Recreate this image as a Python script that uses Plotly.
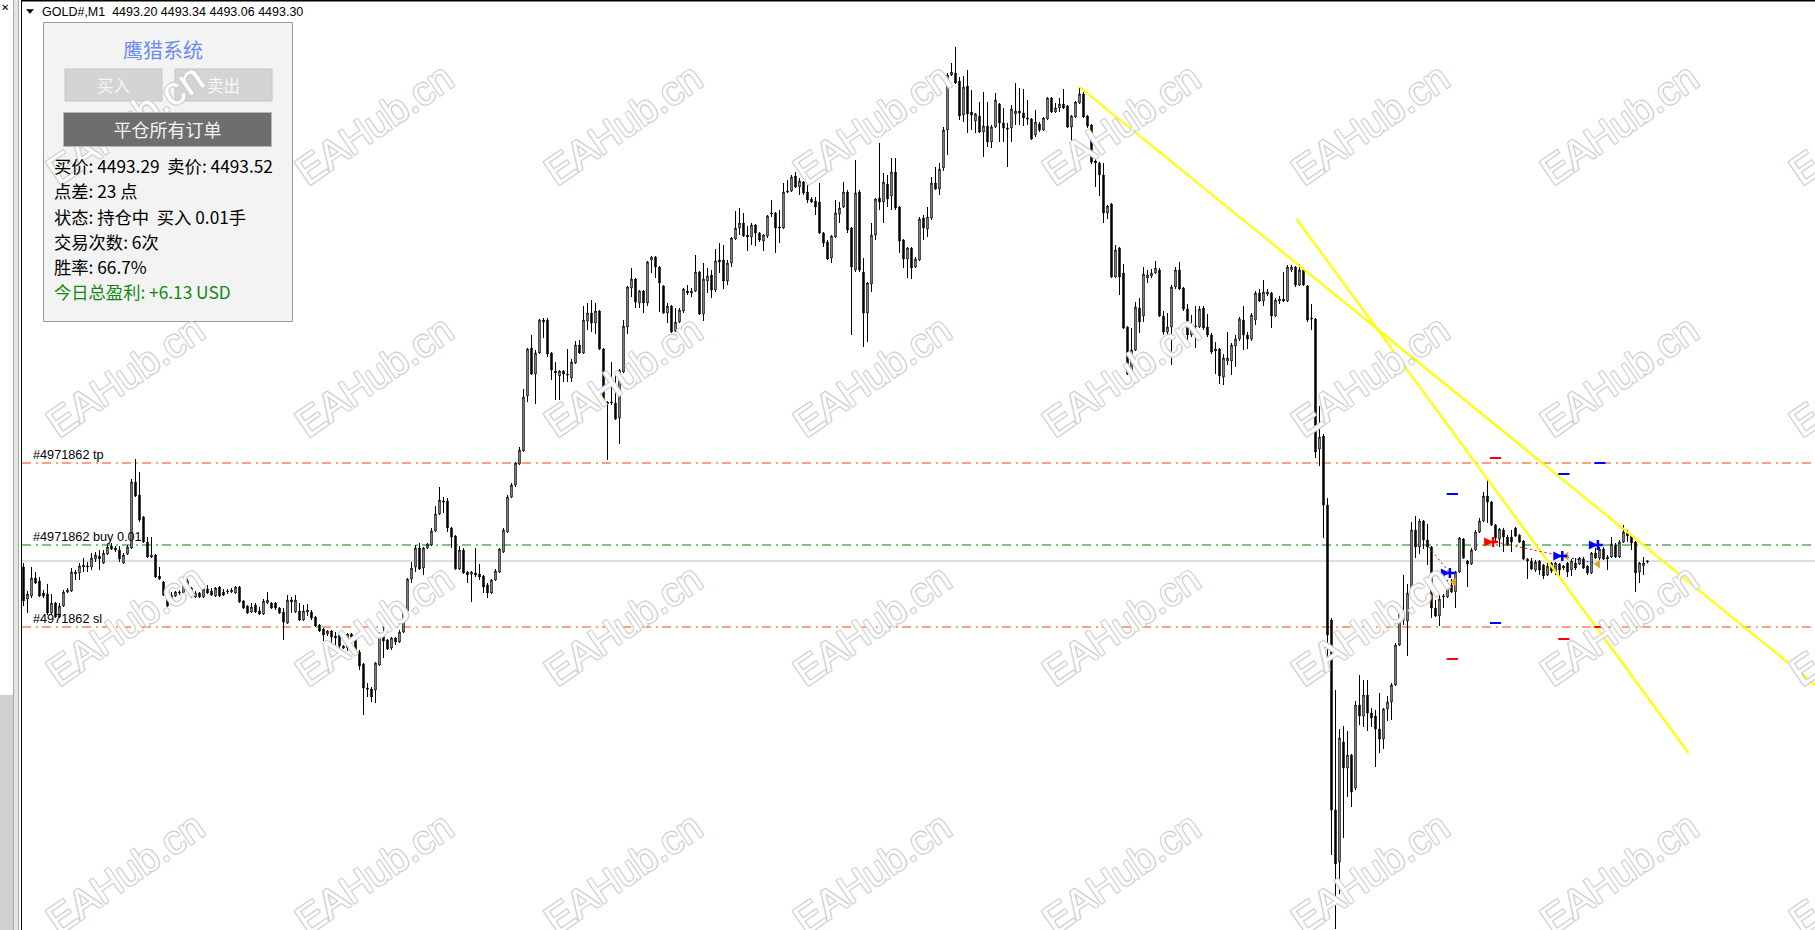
import plotly.graph_objects as go

W, H = 1815, 930

# ---------------- data (GOLD#, M1) ----------------
SYMBOL = "GOLD#,M1"
LAST_OHLC = ["4493.20", "4493.34", "4493.06", "4493.30"]

opens = [
    4492.7, 4489.5, 4489.8, 4491.6, 4491.3, 4490.1, 4490.0, 4488.1, 4489.1, 4487.7,
    4488.8, 4490.2, 4490.3, 4492.0, 4492.1, 4492.7, 4492.7, 4492.7, 4493.5, 4493.8,
    4493.1, 4494.0, 4494.8, 4494.6, 4494.4, 4493.1, 4494.0, 4494.6, 4501.2, 4499.9,
    4497.7, 4495.2, 4493.7, 4493.9, 4491.8, 4491.2, 4490.3, 4489.0, 4489.8, 4490.1,
    4490.1, 4491.3, 4490.6, 4489.7, 4490.1, 4489.7, 4490.5, 4490.3, 4489.8, 4490.7,
    4490.2, 4490.2, 4490.2, 4490.1, 4490.7, 4489.3, 4488.8, 4488.2, 4488.9, 4488.3,
    4488.0, 4489.1, 4489.1, 4489.1, 4488.6, 4488.2, 4487.1, 4489.4, 4488.2, 4488.3,
    4487.4, 4488.2, 4488.2, 4487.7, 4486.9, 4486.5, 4486.0, 4486.3, 4485.8, 4485.9,
    4484.8, 4484.6, 4486.0, 4485.5, 4484.2, 4483.0, 4480.6, 4480.5, 4480.4, 4482.9,
    4486.2, 4485.4, 4484.6, 4485.6, 4485.2, 4486.2, 4488.3, 4491.5, 4492.7, 4494.6,
    4492.6, 4494.6, 4494.9, 4496.3, 4498.0, 4499.3, 4499.3, 4496.6, 4495.8, 4492.5,
    4494.4, 4492.2, 4492.0, 4492.1, 4492.0, 4491.8, 4490.9, 4490.1, 4491.4, 4492.2,
    4494.2, 4496.2, 4499.7, 4500.9, 4503.0, 4504.3, 4509.8, 4514.6, 4512.0, 4514.1,
    4517.4, 4517.4, 4514.1, 4512.3, 4511.8, 4512.3, 4512.0, 4511.6, 4513.1, 4514.9,
    4514.1, 4517.3, 4518.1, 4517.1, 4518.3, 4514.5, 4509.0, 4509.1, 4509.1, 4507.6,
    4512.2, 4516.7, 4520.6, 4521.5, 4519.1, 4520.3, 4519.1, 4523.4, 4523.7, 4522.7,
    4520.8, 4518.1, 4518.8, 4516.3, 4517.2, 4518.3, 4520.3, 4520.1, 4520.3, 4522.2,
    4518.0, 4521.3, 4521.9, 4520.4, 4523.4, 4523.4, 4521.3, 4523.1, 4525.5, 4526.6,
    4527.1, 4525.9, 4525.7, 4526.9, 4526.1, 4525.3, 4525.8, 4528.0, 4528.1, 4526.7,
    4526.6, 4530.3, 4530.3, 4531.8, 4530.7, 4531.2, 4530.2, 4529.5, 4529.3, 4529.2,
    4526.1, 4525.2, 4523.6, 4525.7, 4528.0, 4528.7, 4530.2, 4526.6, 4522.4, 4530.2,
    4522.2, 4518.1, 4521.0, 4525.9, 4529.6, 4529.2, 4531.0, 4529.8, 4532.2, 4528.7,
    4525.4, 4523.5, 4524.6, 4522.7, 4523.4, 4527.6, 4526.5, 4527.6, 4531.1, 4530.5,
    4532.6, 4536.4, 4541.9, 4542.1, 4541.3, 4537.9, 4540.8, 4538.2, 4537.3, 4537.8,
    4536.2, 4536.8, 4535.2, 4536.7, 4539.0, 4537.1, 4536.6, 4536.6, 4538.0, 4538.3,
    4538.1, 4537.6, 4537.5, 4535.9, 4537.0, 4536.4, 4537.5, 4539.6, 4538.2, 4538.6,
    4539.0, 4538.8, 4536.7, 4537.7, 4539.1, 4540.0, 4537.8, 4536.9, 4533.3, 4533.1,
    4531.9, 4528.1, 4529.0, 4521.7, 4524.6, 4522.1, 4516.7, 4512.0, 4514.4, 4518.6,
    4517.8, 4521.6, 4521.8, 4522.1, 4522.4, 4517.8, 4516.2, 4516.7, 4520.7, 4522.4,
    4520.6, 4518.5, 4515.9, 4516.7, 4516.7, 4518.6, 4516.7, 4515.9, 4514.3, 4514.5,
    4511.7, 4513.3, 4513.3, 4514.8, 4515.5, 4517.4, 4515.9, 4515.5, 4517.4, 4520.1,
    4519.3, 4520.0, 4520.1, 4517.8, 4519.3, 4519.5, 4519.3, 4522.4, 4522.7, 4520.9,
    4522.4, 4520.8, 4517.6, 4517.5, 4504.5, 4505.8, 4498.9, 4487.4, 4468.4, 4463.2,
    4475.2, 4472.6, 4473.9, 4470.6, 4478.9, 4477.8, 4479.9, 4478.1, 4477.8, 4476.5,
    4475.5, 4478.5, 4479.2, 4480.9, 4484.9, 4488.0, 4487.3, 4490.1, 4496.4, 4494.7,
    4497.3, 4495.4, 4494.7, 4488.6, 4487.8, 4489.7, 4489.7, 4490.9, 4490.2, 4492.2,
    4495.5, 4493.3, 4493.0, 4494.4, 4496.2, 4497.3, 4499.8, 4499.2, 4496.9, 4495.5,
    4496.4, 4495.7, 4495.7, 4496.6, 4495.9, 4495.3, 4493.5, 4493.3, 4492.4, 4493.3,
    4492.9, 4491.9, 4493.1, 4492.2, 4493.0, 4492.6, 4493.1, 4492.4, 4493.1, 4493.0,
    4493.5, 4492.8, 4492.1, 4494.1, 4493.6, 4494.5, 4493.5, 4493.7, 4494.9, 4493.7,
    4495.2, 4496.2, 4495.8, 4495.2, 4492.2, 4492.8, 4493.20,
]

highs = [
    4493.1, 4490.3, 4492.7, 4492.2, 4491.7, 4490.4, 4491.0, 4490.0, 4489.2, 4489.1,
    4490.4, 4490.6, 4492.6, 4492.4, 4493.1, 4493.6, 4493.2, 4494.1, 4494.2, 4494.4,
    4494.4, 4495.0, 4495.1, 4494.8, 4494.8, 4494.1, 4494.9, 4501.5, 4503.5, 4502.2,
    4497.8, 4495.7, 4495.7, 4494.0, 4492.7, 4491.3, 4490.4, 4490.2, 4490.3, 4490.4,
    4491.7, 4491.5, 4490.7, 4490.3, 4490.2, 4490.7, 4490.9, 4490.6, 4490.7, 4490.8,
    4490.5, 4490.5, 4490.6, 4490.8, 4490.8, 4489.4, 4488.9, 4489.1, 4489.1, 4488.7,
    4489.5, 4490.2, 4489.2, 4489.2, 4488.7, 4488.6, 4489.9, 4489.7, 4489.9, 4489.1,
    4488.9, 4489.0, 4488.4, 4487.8, 4487.0, 4486.6, 4486.4, 4486.4, 4486.2, 4486.1,
    4484.9, 4486.1, 4486.1, 4485.6, 4484.4, 4483.1, 4481.1, 4480.7, 4483.2, 4486.2,
    4487.4, 4485.5, 4485.7, 4485.7, 4486.4, 4488.4, 4491.6, 4493.2, 4494.9, 4495.1,
    4494.7, 4495.1, 4496.6, 4498.8, 4500.7, 4499.7, 4499.6, 4496.7, 4495.9, 4494.8,
    4494.6, 4492.3, 4492.3, 4494.6, 4493.0, 4491.9, 4491.1, 4491.5, 4492.5, 4494.6,
    4496.6, 4499.9, 4501.1, 4503.2, 4504.7, 4510.5, 4514.6, 4515.9, 4514.4, 4517.5,
    4517.6, 4517.6, 4514.2, 4513.2, 4512.4, 4512.4, 4514.5, 4513.5, 4515.3, 4515.4,
    4518.8, 4519.1, 4519.4, 4519.1, 4518.4, 4514.6, 4509.3, 4513.2, 4512.1, 4512.5,
    4517.4, 4520.8, 4522.6, 4521.6, 4520.4, 4520.4, 4523.3, 4523.8, 4523.8, 4522.8,
    4520.9, 4519.1, 4518.9, 4518.6, 4518.6, 4520.6, 4520.9, 4520.6, 4523.9, 4522.3,
    4523.1, 4522.6, 4522.4, 4524.5, 4525.1, 4524.9, 4523.4, 4525.7, 4528.3, 4528.6,
    4528.1, 4526.8, 4527.1, 4527.0, 4526.2, 4526.0, 4527.9, 4529.4, 4528.2, 4528.4,
    4531.1, 4531.4, 4531.9, 4532.2, 4531.6, 4531.3, 4530.9, 4529.7, 4529.7, 4531.1,
    4526.2, 4525.4, 4525.9, 4529.4, 4529.2, 4531.2, 4530.4, 4526.7, 4533.4, 4530.4,
    4523.6, 4521.2, 4527.1, 4529.6, 4535.1, 4532.1, 4531.9, 4533.6, 4533.6, 4528.8,
    4525.5, 4524.7, 4524.7, 4523.7, 4527.7, 4527.9, 4528.7, 4531.7, 4532.7, 4533.1,
    4536.7, 4542.1, 4543.1, 4544.7, 4541.7, 4541.8, 4542.4, 4540.4, 4538.1, 4539.2,
    4540.2, 4539.2, 4536.9, 4540.1, 4539.1, 4538.6, 4537.1, 4538.9, 4541.1, 4540.6,
    4540.5, 4539.4, 4537.6, 4538.4, 4537.2, 4537.7, 4539.7, 4539.7, 4539.1, 4539.6,
    4540.5, 4538.9, 4537.9, 4539.3, 4540.7, 4540.2, 4537.9, 4537.0, 4533.9, 4533.2,
    4533.1, 4528.9, 4529.1, 4524.9, 4524.7, 4523.0, 4516.8, 4516.6, 4519.2, 4519.6,
    4522.7, 4522.4, 4522.5, 4523.3, 4522.6, 4518.3, 4518.1, 4520.9, 4522.7, 4523.2,
    4520.7, 4519.0, 4517.9, 4518.8, 4518.8, 4518.8, 4518.0, 4516.1, 4515.2, 4514.6,
    4514.0, 4516.2, 4515.1, 4515.9, 4517.7, 4518.8, 4516.2, 4518.1, 4520.3, 4520.5,
    4521.4, 4520.5, 4520.2, 4519.6, 4519.8, 4522.2, 4522.9, 4522.9, 4522.8, 4523.0,
    4522.5, 4520.9, 4519.0, 4517.6, 4508.8, 4506.0, 4499.6, 4487.6, 4480.4, 4476.5,
    4476.8, 4476.3, 4474.0, 4479.3, 4481.9, 4481.4, 4481.4, 4478.6, 4478.4, 4480.1,
    4478.6, 4479.8, 4481.1, 4485.1, 4488.2, 4491.9, 4491.0, 4497.2, 4497.8, 4497.5,
    4497.4, 4497.0, 4494.8, 4489.4, 4490.0, 4490.0, 4491.4, 4491.5, 4492.3, 4495.7,
    4495.6, 4493.4, 4494.6, 4496.4, 4497.6, 4500.2, 4501.5, 4499.3, 4497.0, 4496.6,
    4496.6, 4495.9, 4496.4, 4496.7, 4496.0, 4495.4, 4493.6, 4493.6, 4493.4, 4493.4,
    4493.0, 4493.1, 4493.2, 4493.2, 4493.1, 4492.9, 4493.2, 4493.5, 4493.6, 4493.7,
    4493.7, 4492.9, 4494.2, 4494.6, 4494.7, 4494.7, 4493.9, 4495.7, 4495.1, 4495.4,
    4496.9, 4496.4, 4495.9, 4495.3, 4493.2, 4493.7, 4493.34,
]

lows = [
    4488.8, 4488.1, 4489.6, 4491.0, 4489.7, 4489.6, 4487.9, 4487.9, 4487.6, 4487.6,
    4488.7, 4490.1, 4490.2, 4491.4, 4491.4, 4492.2, 4492.2, 4492.4, 4493.2, 4492.4,
    4493.0, 4493.9, 4494.4, 4494.2, 4493.2, 4493.0, 4493.9, 4494.5, 4499.7, 4497.2,
    4495.1, 4493.6, 4493.6, 4491.6, 4491.4, 4489.8, 4488.7, 4488.9, 4489.7, 4489.9,
    4490.0, 4490.4, 4489.6, 4489.6, 4489.6, 4489.6, 4490.0, 4489.8, 4489.7, 4489.7,
    4489.8, 4490.0, 4490.1, 4490.0, 4489.1, 4488.5, 4488.0, 4488.1, 4488.1, 4487.9,
    4487.9, 4489.0, 4488.5, 4488.4, 4488.0, 4485.4, 4487.0, 4488.1, 4488.1, 4487.3,
    4487.3, 4487.8, 4487.4, 4486.7, 4486.2, 4485.3, 4485.8, 4484.7, 4484.9, 4484.6,
    4484.5, 4484.3, 4485.6, 4483.9, 4482.4, 4477.9, 4479.7, 4479.2, 4479.1, 4482.8,
    4483.6, 4484.4, 4484.4, 4484.9, 4485.1, 4486.1, 4488.2, 4491.1, 4492.2, 4492.4,
    4491.9, 4494.5, 4494.8, 4496.2, 4497.9, 4498.1, 4496.2, 4494.6, 4492.4, 4492.4,
    4492.0, 4491.1, 4489.2, 4491.7, 4491.4, 4490.1, 4489.6, 4490.0, 4491.3, 4492.1,
    4494.1, 4496.1, 4499.6, 4500.7, 4502.9, 4504.2, 4509.2, 4511.9, 4509.0, 4514.0,
    4515.6, 4513.7, 4511.4, 4509.4, 4509.4, 4511.2, 4511.2, 4511.2, 4513.0, 4514.0,
    4514.0, 4516.4, 4516.2, 4516.0, 4514.4, 4509.0, 4503.4, 4508.9, 4507.4, 4505.0,
    4512.1, 4516.0, 4519.7, 4518.6, 4518.6, 4518.1, 4518.8, 4522.1, 4521.6, 4518.2,
    4518.0, 4517.1, 4516.1, 4516.2, 4517.1, 4518.1, 4519.9, 4519.7, 4520.2, 4517.9,
    4517.3, 4520.1, 4519.6, 4520.2, 4522.1, 4520.5, 4520.9, 4522.7, 4525.4, 4525.9,
    4525.7, 4524.3, 4524.9, 4524.8, 4525.2, 4524.3, 4525.6, 4527.7, 4524.1, 4525.1,
    4526.5, 4530.1, 4530.2, 4530.6, 4529.9, 4529.9, 4529.1, 4529.1, 4527.9, 4526.0,
    4524.7, 4523.4, 4523.1, 4525.6, 4527.1, 4528.6, 4526.1, 4515.9, 4522.2, 4522.2,
    4514.7, 4515.2, 4520.2, 4525.4, 4528.4, 4527.1, 4528.7, 4528.4, 4528.4, 4524.1,
    4522.6, 4521.6, 4521.5, 4522.6, 4523.3, 4525.4, 4525.7, 4527.4, 4530.4, 4529.9,
    4532.3, 4533.9, 4541.8, 4541.0, 4537.4, 4537.2, 4536.1, 4536.4, 4536.1, 4536.1,
    4533.7, 4534.7, 4534.6, 4536.6, 4535.2, 4535.2, 4532.7, 4535.2, 4536.9, 4536.9,
    4536.8, 4536.9, 4535.4, 4535.7, 4536.2, 4536.3, 4537.4, 4538.1, 4538.1, 4538.2,
    4538.5, 4536.6, 4535.1, 4537.6, 4539.0, 4537.6, 4536.6, 4533.0, 4530.7, 4529.8,
    4527.1, 4527.5, 4521.6, 4521.6, 4519.9, 4516.5, 4511.9, 4511.2, 4514.3, 4516.1,
    4517.2, 4521.1, 4521.6, 4522.0, 4517.7, 4515.9, 4515.9, 4512.9, 4520.5, 4520.4,
    4518.3, 4515.1, 4515.7, 4514.6, 4516.6, 4516.4, 4515.7, 4514.0, 4512.0, 4511.0,
    4510.9, 4512.9, 4511.9, 4512.7, 4515.3, 4514.4, 4514.5, 4515.3, 4516.9, 4519.2,
    4518.8, 4519.8, 4516.6, 4517.7, 4519.0, 4519.2, 4519.2, 4522.2, 4520.7, 4520.8,
    4520.8, 4517.2, 4516.4, 4503.6, 4502.8, 4495.6, 4483.2, 4463.9, 4456.5, 4460.0,
    4465.6, 4469.7, 4468.7, 4470.4, 4476.9, 4476.7, 4476.3, 4476.7, 4472.7, 4474.1,
    4474.5, 4477.3, 4477.4, 4480.8, 4484.8, 4486.9, 4483.8, 4490.0, 4493.6, 4494.0,
    4494.5, 4492.9, 4487.6, 4487.7, 4486.8, 4488.6, 4489.6, 4490.1, 4488.6, 4492.1,
    4493.5, 4490.7, 4492.9, 4494.3, 4496.1, 4497.2, 4497.1, 4496.8, 4495.1, 4494.7,
    4494.2, 4494.8, 4494.2, 4495.7, 4495.1, 4493.4, 4491.5, 4492.4, 4492.2, 4491.9,
    4491.5, 4491.8, 4492.1, 4491.9, 4491.7, 4492.4, 4491.7, 4491.8, 4492.4, 4492.9,
    4492.5, 4491.9, 4492.0, 4493.5, 4493.4, 4493.4, 4492.4, 4493.6, 4493.6, 4493.6,
    4495.1, 4495.2, 4494.4, 4490.2, 4491.1, 4491.9, 4493.06,
]

closes = [
    4489.3, 4490.0, 4491.6, 4491.1, 4489.8, 4489.8, 4488.1, 4489.1, 4487.7, 4488.8,
    4490.2, 4490.4, 4492.2, 4492.2, 4492.8, 4492.9, 4492.8, 4493.6, 4493.9, 4493.5,
    4494.1, 4494.7, 4494.5, 4494.4, 4493.5, 4493.9, 4494.7, 4501.2, 4499.8, 4497.4,
    4495.2, 4493.7, 4493.9, 4491.7, 4491.5, 4489.9, 4488.8, 4489.9, 4490.2, 4490.2,
    4491.3, 4490.5, 4489.7, 4490.1, 4489.7, 4490.5, 4490.1, 4489.9, 4490.6, 4489.8,
    4489.9, 4490.3, 4490.4, 4490.7, 4489.2, 4488.6, 4488.1, 4488.7, 4488.2, 4488.0,
    4489.3, 4489.4, 4488.6, 4488.6, 4488.1, 4487.2, 4489.4, 4489.2, 4489.4, 4487.4,
    4488.3, 4488.4, 4487.6, 4486.8, 4486.3, 4485.9, 4486.3, 4485.7, 4485.6, 4484.8,
    4484.6, 4486.0, 4485.7, 4484.0, 4482.8, 4480.6, 4480.5, 4479.7, 4483.1, 4486.0,
    4485.3, 4484.5, 4485.6, 4485.2, 4486.2, 4488.3, 4491.5, 4492.6, 4494.6, 4492.5,
    4494.6, 4495.0, 4496.3, 4498.0, 4499.4, 4499.2, 4496.6, 4495.7, 4492.5, 4494.4,
    4492.1, 4491.9, 4492.2, 4491.9, 4491.7, 4490.7, 4490.1, 4491.4, 4492.3, 4494.5,
    4496.4, 4499.7, 4500.9, 4503.1, 4504.4, 4509.7, 4514.5, 4512.0, 4514.1, 4517.4,
    4517.2, 4514.0, 4512.4, 4512.1, 4512.3, 4512.0, 4511.9, 4513.2, 4514.9, 4514.1,
    4517.4, 4518.1, 4517.1, 4518.3, 4514.5, 4509.1, 4509.2, 4509.2, 4507.5, 4512.4,
    4516.8, 4520.7, 4521.5, 4519.2, 4520.3, 4519.1, 4523.2, 4523.7, 4522.7, 4521.1,
    4518.1, 4518.8, 4516.2, 4517.2, 4518.4, 4520.5, 4520.1, 4520.3, 4522.2, 4518.0,
    4521.5, 4521.8, 4520.4, 4523.3, 4523.2, 4521.3, 4523.1, 4525.6, 4526.6, 4527.1,
    4525.8, 4525.7, 4526.9, 4526.1, 4525.4, 4525.9, 4527.8, 4528.1, 4526.6, 4526.6,
    4530.2, 4530.2, 4531.7, 4530.7, 4531.3, 4530.1, 4529.4, 4529.2, 4528.7, 4526.1,
    4525.1, 4523.5, 4525.8, 4528.1, 4528.6, 4530.2, 4526.4, 4522.7, 4530.1, 4522.4,
    4518.1, 4521.1, 4525.9, 4529.5, 4529.2, 4531.2, 4529.5, 4532.2, 4528.6, 4525.3,
    4523.5, 4524.6, 4522.6, 4523.5, 4527.5, 4526.6, 4527.7, 4531.1, 4530.5, 4532.5,
    4536.4, 4541.9, 4542.2, 4541.1, 4537.8, 4540.7, 4538.0, 4537.9, 4538.0, 4536.2,
    4536.8, 4535.2, 4536.7, 4539.4, 4537.1, 4536.6, 4536.5, 4538.5, 4538.3, 4538.1,
    4537.6, 4537.5, 4535.5, 4537.2, 4536.4, 4537.6, 4539.6, 4538.2, 4538.6, 4539.0,
    4538.6, 4536.7, 4537.8, 4539.2, 4540.0, 4537.7, 4536.8, 4533.2, 4533.1, 4531.9,
    4528.1, 4528.8, 4521.7, 4524.4, 4521.7, 4516.6, 4512.0, 4514.4, 4518.7, 4517.2,
    4522.0, 4521.9, 4522.1, 4522.6, 4517.8, 4516.2, 4516.7, 4520.7, 4522.4, 4520.5,
    4518.5, 4515.9, 4516.8, 4516.8, 4518.5, 4516.6, 4515.9, 4514.2, 4514.5, 4511.8,
    4513.6, 4513.6, 4514.9, 4515.5, 4517.5, 4515.9, 4515.5, 4517.9, 4520.1, 4519.3,
    4520.2, 4520.2, 4517.8, 4519.4, 4519.5, 4519.3, 4522.7, 4522.7, 4520.9, 4522.4,
    4520.9, 4517.4, 4517.5, 4504.2, 4505.7, 4498.9, 4485.9, 4468.4, 4463.0, 4475.6,
    4472.6, 4473.9, 4470.2, 4478.9, 4477.8, 4479.9, 4478.1, 4477.6, 4476.5, 4475.5,
    4478.5, 4479.2, 4480.9, 4484.9, 4488.0, 4487.4, 4490.1, 4496.4, 4494.7, 4497.3,
    4495.4, 4494.7, 4488.6, 4487.8, 4489.5, 4489.8, 4490.9, 4490.2, 4492.2, 4495.6,
    4493.6, 4493.0, 4494.4, 4496.2, 4497.3, 4499.8, 4499.2, 4496.9, 4495.6, 4496.5,
    4495.7, 4494.9, 4495.2, 4495.8, 4495.2, 4493.5, 4493.3, 4492.5, 4493.2, 4492.4,
    4491.8, 4492.8, 4492.3, 4493.1, 4492.4, 4492.8, 4492.2, 4493.3, 4492.6, 4493.6,
    4492.6, 4492.1, 4494.1, 4493.6, 4494.5, 4493.5, 4493.7, 4495.0, 4493.7, 4495.2,
    4496.2, 4495.8, 4495.1, 4492.1, 4493.1, 4493.1, 4493.30,
]

# open order #4971862 (buy 0.01) and current bid
ORDER_ID = "4971862"
TP_PRICE = 4503.1
ENTRY_PRICE = 4494.9
SL_PRICE = 4486.7
BID_PRICE = 4493.3

# trend lines: (bar index, price) anchors
TREND_A_X = [264, 400]          # ray to the right edge
TREND_A_Y = [4540.7, 4496.5]
TREND_B_X = [318.25, 416.25]    # segment
TREND_B_Y = [4527.5, 4474.1]

# trade history markers
SELL_LINE_X = [351.3, 356.4, None, 369.25, 383.4]
SELL_LINE_Y = [4494.7, 4492.2, None, 4495.1, 4493.9]
BUY_LINE_X = [385.9, 392.6]
BUY_LINE_Y = [4493.7, 4493.1]
BUY_ARROW_X = [356.6, 384.7, 393.6]
BUY_ARROW_Y = [4492.1, 4493.8, 4494.9]
SELL_ARROW_X = [367.4]
SELL_ARROW_Y = [4495.2]
CLOSE_X = [357.6, 385.7, 393.6]
CLOSE_Y = [4491.2, 4493.8, 4493.0]
BLUE_LEVEL_X = [357.2, 368.0, 385.1, 394.1]
BLUE_LEVEL_Y = [4500.0, 4487.1, 4502.0, 4503.1]
RED_LEVEL_X = [357.2, 368.0, 385.1, 394.1]
RED_LEVEL_Y = [4483.5, 4503.6, 4485.5, 4486.7]

# panel texts
PANEL_TITLE = "鹰猎系统"
BTN_BUY, BTN_SELL, BTN_CLOSE = "买入", "卖出", "平仓所有订单"
PANEL_LINES = [
    "买价: 4493.29  卖价: 4493.52",
    "点差: 23 点",
    "状态: 持仓中  买入 0.01手",
    "交易次数: 6次",
    "胜率: 66.7%",
]
PROFIT_LINE = "今日总盈利: +6.13 USD"
WATERMARK = "EAHub.cn"

assert len(opens) == len(highs) == len(lows) == len(closes) == 407

# ---------------- figure ----------------
n = len(closes)
idx = list(range(n))
X_MIN = -0.375
X_MAX = X_MIN + (W - 22) / 4.0
Y_MIN, Y_MAX = 4456.4, 4549.4
CJK = "Noto Sans CJK SC"
LAT = "Liberation Sans"

fig = go.Figure()
fig.add_trace(go.Candlestick(
    x=idx, open=opens, high=highs, low=lows, close=closes,
    increasing=dict(fillcolor="#FFFFFF", line=dict(color="#000000", width=1)),
    decreasing=dict(fillcolor="#000000", line=dict(color="#000000", width=1)),
    whiskerwidth=0, hoverinfo="skip", showlegend=False,
))

# trend lines
slope_a = (TREND_A_Y[1] - TREND_A_Y[0]) / (TREND_A_X[1] - TREND_A_X[0])
x_end = X_MAX + 2
fig.add_trace(go.Scatter(
    x=[TREND_A_X[0], x_end], y=[TREND_A_Y[0], TREND_A_Y[0] + slope_a * (x_end - TREND_A_X[0])],
    mode="lines", line=dict(color="#FFFF00", width=2.2), hoverinfo="skip", showlegend=False))
fig.add_trace(go.Scatter(
    x=TREND_B_X, y=TREND_B_Y, mode="lines", line=dict(color="#FFFF00", width=2.2),
    hoverinfo="skip", showlegend=False))

# trade history
fig.add_trace(go.Scatter(x=SELL_LINE_X, y=SELL_LINE_Y, mode="lines",
                         line=dict(color="#FF0000", width=1, dash="2px,3px"),
                         hoverinfo="skip", showlegend=False))
fig.add_trace(go.Scatter(x=BUY_LINE_X, y=BUY_LINE_Y, mode="lines",
                         line=dict(color="#0000FF", width=1, dash="2px,3px"),
                         hoverinfo="skip", showlegend=False))
fig.add_trace(go.Scatter(x=BLUE_LEVEL_X, y=BLUE_LEVEL_Y, mode="markers",
                         marker=dict(symbol="line-ew", size=8, line=dict(color="#0000FF", width=2)),
                         hoverinfo="skip", showlegend=False))
fig.add_trace(go.Scatter(x=RED_LEVEL_X, y=RED_LEVEL_Y, mode="markers",
                         marker=dict(symbol="line-ew", size=8, line=dict(color="#FF0000", width=2)),
                         hoverinfo="skip", showlegend=False))
fig.add_trace(go.Scatter(x=CLOSE_X, y=CLOSE_Y, mode="markers",
                         marker=dict(symbol="triangle-left", size=8, color="#DAA520"),
                         hoverinfo="skip", showlegend=False))
for ax, ay, col in [(BUY_ARROW_X, BUY_ARROW_Y, "#0000FF"), (SELL_ARROW_X, SELL_ARROW_Y, "#FF0000")]:
    fig.add_trace(go.Scatter(x=ax, y=ay, mode="markers",
                             marker=dict(symbol="cross-thin", size=7, line=dict(color=col, width=2.5)),
                             hoverinfo="skip", showlegend=False))
    fig.add_trace(go.Scatter(x=ax, y=ay, mode="markers",
                             marker=dict(symbol="arrow-right", size=9, color=col),
                             hoverinfo="skip", showlegend=False))

shapes = []
annotations = []

def px_x(x):
    return x / W

def px_y(y):
    return 1 - y / H

def rect(x0, y0, x1, y1, fill, line=None, layer="above"):
    shapes.append(dict(type="rect", xref="paper", yref="paper",
                       x0=px_x(x0), x1=px_x(x1), y0=px_y(y0), y1=px_y(y1),
                       fillcolor=fill, layer=layer,
                       line=dict(color=line if line else fill, width=1 if line else 0)))

def text(x, y, s, size, color, family=LAT, xanchor="left"):
    annotations.append(dict(xref="paper", yref="paper", x=px_x(x), y=px_y(y), text=s,
                            showarrow=False, xanchor=xanchor, yanchor="middle",
                            font=dict(family=family, size=size, color=color)))

# order lines
DASHDOT = "9px,5px,2px,4px"
for price, color, dash in [(BID_PRICE, "#C0C0C0", "solid"),
                           (TP_PRICE, "#FF4500", DASHDOT),
                           (ENTRY_PRICE, "#008000", DASHDOT),
                           (SL_PRICE, "#FF4500", DASHDOT)]:
    shapes.append(dict(type="line", xref="paper", yref="y", x0=px_x(22), x1=1,
                       y0=price, y1=price, layer="below",
                       line=dict(color=color, width=1, dash=dash)))

for price, lbl in [(TP_PRICE, "tp"), (ENTRY_PRICE, "buy 0.01"), (SL_PRICE, "sl")]:
    annotations.append(dict(xref="paper", yref="y", x=px_x(31), y=price,
                            text=f"#{ORDER_ID} {lbl}", showarrow=False,
                            xanchor="left", yanchor="bottom", yshift=-1,
                            font=dict(family=LAT, size=12.7, color="#000000")))

# window frame, left strip
rect(0, 0, 21, H, "#FFFFFF")
rect(14, 0, 18, H, "#E4E4E4")
rect(0, 695, 13, H, "#D0D0D0")
for xx, col in [(13.5, "#A8A8A8"), (18.5, "#A8A8A8"), (21.5, "#000000")]:
    shapes.append(dict(type="line", xref="paper", yref="paper", x0=px_x(xx), x1=px_x(xx),
                       y0=0, y1=1, line=dict(color=col, width=1), layer="above"))
shapes.append(dict(type="line", xref="paper", yref="paper", x0=px_x(21), x1=1,
                   y0=px_y(0.8), y1=px_y(0.8), line=dict(color="#000000", width=1.5), layer="above"))
text(5, 8, "✕", 10, "#000000", "DejaVu Sans", "center")

# chart title
shapes.append(dict(type="path", xref="paper", yref="paper",
                   path=f"M {px_x(26.5)} {px_y(9.5)} L {px_x(33.5)} {px_y(9.5)} L {px_x(30)} {px_y(13.5)} Z",
                   fillcolor="#000000", line=dict(color="#000000", width=0.5), layer="above"))
text(40, 12, f"{SYMBOL}  {' '.join(LAST_OHLC)}", 12.5, "#000000")

# control panel background and light buttons (watermark shows over them)
rect(43.5, 22.5, 292.5, 321.5, "#F3F3F3", "#9A9A9A")
rect(65, 69, 162, 101, "#D4D4D4", "#C4C4C4")
rect(175, 69, 272, 101, "#D4D4D4", "#C4C4C4")

# watermarks
WM_SHADOW = "1px 1px 0 #CDCDCD, -1px -1px 0 #CDCDCD, 1px -1px 0 #CDCDCD, -1px 1px 0 #CDCDCD"
for wy in [124, 376, 625, 873]:
    for k in range(8):
        wx = 125 + 249 * k
        annotations.append(dict(
            xref="paper", yref="paper", x=px_x(wx), y=px_y(wy), text=WATERMARK,
            showarrow=False, xanchor="center", yanchor="middle", textangle=-34.5,
            font=dict(family=LAT, size=40, color="#FFFFFF", shadow=WM_SHADOW)))

# panel texts and the dark button (drawn over the watermark)
text(163, 50, PANEL_TITLE, 20, "#6A8CEE", CJK, "center")
text(113.5, 85, BTN_BUY, 16.5, "#F7F7F7", CJK, "center")
text(223.5, 85, BTN_SELL, 16.5, "#F7F7F7", CJK, "center")
annotations.append(dict(xref="paper", yref="paper", x=px_x(167.5), y=px_y(129.5),
                        text=BTN_CLOSE, showarrow=False, xanchor="center", yanchor="middle",
                        width=207, height=32.5, borderpad=0, borderwidth=1,
                        bgcolor="#6E6E6E", bordercolor="#B8B8B8",
                        font=dict(family=CJK, size=18, color="#F2F2F2")))
for k, line in enumerate(PANEL_LINES):
    text(52, 166 + 25 * k, line, 17.3, "#000000", CJK)
text(52, 291, PROFIT_LINE, 17.3, "#118811", CJK)

fig.update_layout(
    width=W, height=H, margin=dict(l=0, r=0, t=0, b=0),
    paper_bgcolor="#FFFFFF", plot_bgcolor="#FFFFFF",
    xaxis=dict(domain=[22 / W, 1], range=[X_MIN, X_MAX], visible=False,
               rangeslider=dict(visible=False), fixedrange=True),
    yaxis=dict(range=[Y_MIN, Y_MAX], visible=False, fixedrange=True),
    boxgap=0.5, showlegend=False, hovermode=False,
    shapes=shapes, annotations=annotations,
)

fig.write_html("out.html", config={"displayModeBar": False},
               post_script="document.body.style.margin='0';document.body.style.overflow='hidden';")
